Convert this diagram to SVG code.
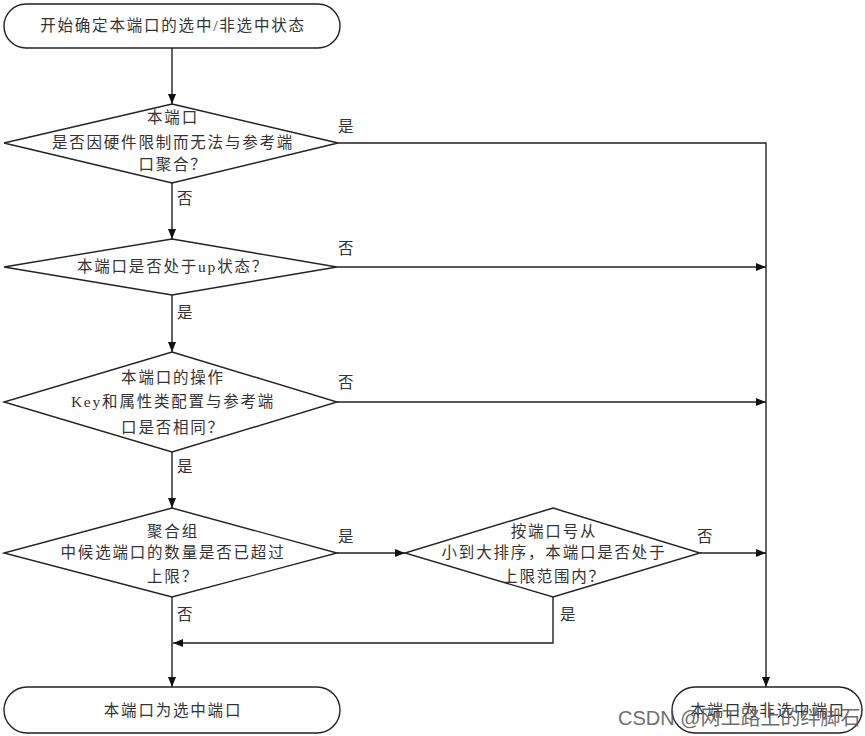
<svg xmlns="http://www.w3.org/2000/svg" width="865" height="736" viewBox="0 0 865 736">
<defs>
<marker id="arr" markerWidth="10" markerHeight="8" refX="10" refY="4" orient="auto" markerUnits="userSpaceOnUse">
<path d="M0,0 L10,4 L0,8 Z" fill="#111"/>
</marker>
<style>
.shape{fill:#fff;stroke:#222;stroke-width:1.4}
.t{font-family:"Liberation Serif","Noto Sans CJK SC",serif;font-size:15.5px;fill:#333;text-anchor:middle;letter-spacing:1.8px}
.lbl{font-family:"Liberation Serif","Noto Sans CJK SC",serif;font-size:15.5px;fill:#333}
.c{fill:none;stroke:#222;stroke-width:1.4}
.wm{font-family:"Liberation Sans","Noto Sans CJK SC",sans-serif;font-size:20px;fill:#555;opacity:0.85}
</style>
</defs>
<rect width="865" height="736" fill="#fff"/>
<g id="connectors">
<line class="c" x1="172" y1="48" x2="172" y2="104" marker-end="url(#arr)"/>
<line class="c" x1="172" y1="183" x2="172" y2="239" marker-end="url(#arr)"/>
<line class="c" x1="172" y1="295" x2="172" y2="352" marker-end="url(#arr)"/>
<line class="c" x1="172" y1="452" x2="172" y2="508" marker-end="url(#arr)"/>
<line class="c" x1="172" y1="597" x2="172" y2="687" marker-end="url(#arr)"/>
<polyline class="c" points="338,143 766,143 766,687" marker-end="url(#arr)"/>
<line class="c" x1="337" y1="267" x2="766" y2="267" marker-end="url(#arr)"/>
<line class="c" x1="337" y1="402" x2="766" y2="402" marker-end="url(#arr)"/>
<line class="c" x1="337" y1="553" x2="405" y2="553" marker-end="url(#arr)"/>
<line class="c" x1="700" y1="553" x2="766" y2="553" marker-end="url(#arr)"/>
<polyline class="c" points="553,597 553,643 173,643" marker-end="url(#arr)"/>
<text class="lbl" x="338" y="132">是</text>
<text class="lbl" x="177" y="204">否</text>
<text class="lbl" x="338" y="254">否</text>
<text class="lbl" x="177" y="318">是</text>
<text class="lbl" x="338" y="388">否</text>
<text class="lbl" x="177" y="472">是</text>
<text class="lbl" x="338" y="542">是</text>
<text class="lbl" x="697" y="542">否</text>
<text class="lbl" x="177" y="620">否</text>
<text class="lbl" x="560" y="620">是</text>
</g>
<g id="start">
<rect class="shape" x="4" y="4" width="336" height="44" rx="22"/>
<text class="t" x="173" y="31">开始确定本端口的选中/非选中状态</text>
</g>
<g id="d1">
<polygon class="shape" points="172,104 338,143 172,183 4,143"/>
<text class="t" x="173" y="123">本端口</text>
<text class="t" x="173" y="148">是否因硬件限制而无法与参考端</text>
<text class="t" x="173" y="170">口聚合？</text>
</g>
<g id="d2">
<polygon class="shape" points="172,239 337,267 172,295 4,267"/>
<text class="t" x="173" y="272">本端口是否处于up状态？</text>
</g>
<g id="d3">
<polygon class="shape" points="172,352 337,402 172,452 4,402"/>
<text class="t" x="173" y="383">本端口的操作</text>
<text class="t" x="173" y="407">Key和属性类配置与参考端</text>
<text class="t" x="173" y="433">口是否相同？</text>
</g>
<g id="d4">
<polygon class="shape" points="172,508 337,553 172,597 4,553"/>
<text class="t" x="173" y="537">聚合组</text>
<text class="t" x="173" y="558">中候选端口的数量是否已超过</text>
<text class="t" x="173" y="582">上限？</text>
</g>
<g id="d5">
<polygon class="shape" points="553,508 700,553 553,597 405,553"/>
<text class="t" x="554" y="537">按端口号从</text>
<text class="t" x="554" y="558">小到大排序，本端口是否处于</text>
<text class="t" x="554" y="582">上限范围内？</text>
</g>
<g id="end-selected">
<rect class="shape" x="4" y="687" width="336" height="46" rx="23"/>
<text class="t" x="173" y="716">本端口为选中端口</text>
</g>
<g id="end-unselected">
<rect class="shape" x="672" y="687" width="190" height="46" rx="23"/>
<text class="t" x="768" y="716">本端口为非选中端口</text>
</g>
<text class="wm" x="618" y="725">CSDN @网工路上的绊脚石</text>
</svg>
